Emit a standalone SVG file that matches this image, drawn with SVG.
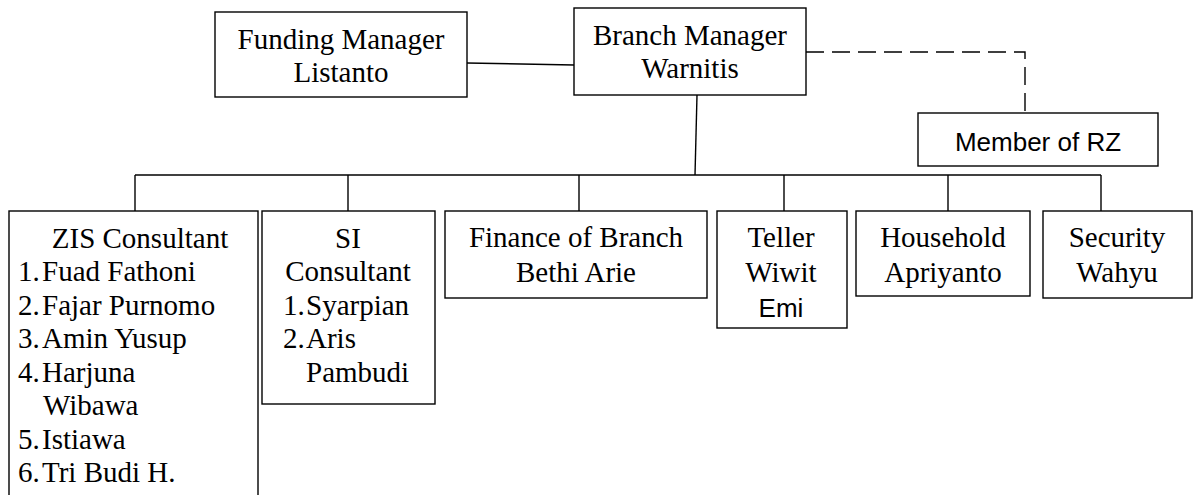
<svg xmlns="http://www.w3.org/2000/svg" width="1198" height="495" viewBox="0 0 1198 495">
<style>
rect{fill:#fff;stroke:#000;stroke-width:1.4}
.c line,.c path{stroke:#000;stroke-width:1.4;fill:none}
text{font-family:"Liberation Serif","Times New Roman",serif;font-size:29px;fill:#000}
.m{text-anchor:middle}
.s{font-family:"Liberation Sans",Arial,sans-serif;font-size:26px}
</style>
<rect x="0" y="0" width="1198" height="495" style="stroke:none"/>
<g class="c" id="connectors">
<line x1="467" y1="63" x2="574" y2="65"/>
<path d="M806 52H1025V113" stroke-dasharray="18 8"/>
<line x1="697" y1="95" x2="695" y2="175"/>
<line x1="135" y1="175" x2="1101" y2="175"/>
<line x1="135" y1="175" x2="135" y2="211"/>
<line x1="348" y1="175" x2="348" y2="211"/>
<line x1="579" y1="175" x2="579" y2="211"/>
<line x1="784" y1="175" x2="784" y2="211"/>
<line x1="948" y1="175" x2="948" y2="211"/>
<line x1="1101" y1="175" x2="1101" y2="211"/>
</g>
<g id="funding"><rect x="215" y="12" width="252" height="85"/>
<text class="m" x="341" y="49">Funding Manager</text><text class="m" x="341" y="82">Listanto</text></g>
<g id="branch"><rect x="574" y="8" width="232" height="87"/>
<text class="m" x="690" y="45">Branch Manager</text><text class="m" x="690" y="78">Warnitis</text></g>
<g id="member"><rect x="918" y="113" width="240" height="53"/>
<text class="m s" x="1038" y="151">Member of RZ</text></g>
<g id="zis"><rect x="9" y="211" width="249" height="300"/>
<text class="m" x="140" y="248">ZIS Consultant</text>
<text x="18" y="281">1.</text><text x="42" y="281">Fuad Fathoni</text>
<text x="18" y="315">2.</text><text x="42" y="315">Fajar Purnomo</text>
<text x="18" y="348">3.</text><text x="42" y="348">Amin Yusup</text>
<text x="18" y="382">4.</text><text x="42" y="382">Harjuna</text>
<text x="43" y="415">Wibawa</text>
<text x="18" y="449">5.</text><text x="42" y="449">Istiawa</text>
<text x="18" y="482">6.</text><text x="42" y="482">Tri Budi H.</text></g>
<g id="si"><rect x="262" y="211" width="173" height="193"/>
<text class="m" x="348" y="248">SI</text><text class="m" x="348" y="281">Consultant</text>
<text x="283" y="315">1.</text><text x="306" y="315">Syarpian</text>
<text x="283" y="348">2.</text><text x="306" y="348">Aris</text>
<text x="306" y="382">Pambudi</text></g>
<g id="finance"><rect x="445" y="211" width="262" height="87"/>
<text class="m" x="576" y="247">Finance of Branch</text><text class="m" x="576" y="282">Bethi Arie</text></g>
<g id="teller"><rect x="717" y="211" width="130" height="117"/>
<text class="m" x="781" y="247">Teller</text><text class="m" x="781" y="282">Wiwit</text><text class="m s" x="781" y="317">Emi</text></g>
<g id="household"><rect x="856" y="211" width="174" height="85"/>
<text class="m" x="943" y="247">Household</text><text class="m" x="943" y="282">Apriyanto</text></g>
<g id="security"><rect x="1043" y="211" width="149" height="87"/>
<text class="m" x="1117" y="247">Security</text><text class="m" x="1117" y="282">Wahyu</text></g>
</svg>
